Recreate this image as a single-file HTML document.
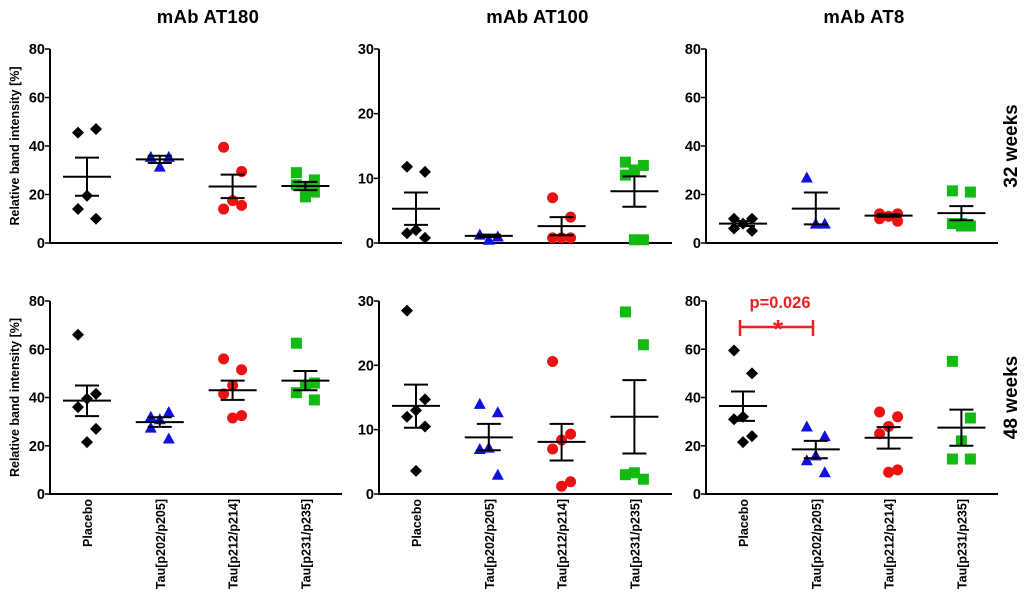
<!DOCTYPE html>
<html><head><meta charset="utf-8"><style>
html,body{margin:0;padding:0;background:#fff;}
svg{display:block;font-family:"Liberation Sans",Arial,sans-serif;font-weight:bold;}
</style></head><body>
<svg id="chart" width="1024" height="611" viewBox="0 0 1024 611"></svg>
<script>
const categories = ["Placebo","Tau[p202/p205]","Tau[p212/p214]","Tau[p231/p235]"];
const panelTitles = ["mAb AT180","mAb AT100","mAb AT8"];
const rowLabels = ["32 weeks","48 weeks"];
const yMaxes = [80,30,80];
const yTicks80 = [0,20,40,60,80];
const yTicks30 = [0,10,20,30];
const at180_32 = [[45.5,47,19.5,14,10],[35.5,35.5,31.5],[39.5,29.5,17.5,14,15.5],[29,26,23,24,21,19]];
const at100_32 = [[11.8,11,2,1.5,0.8],[1.3,1,0.5],[7,4,0.8,0.8,0.8],[12.5,12,11.3,10.5,0.5,0.5]];
const at8_32 = [[10,10,8,6,5],[27,8,8],[12,12,11,10,9],[21.5,21,8,8,7,7]];
const at180_48 = [[66,41.5,39.5,36,27,21.5],[32,34,31,27.5,23],[56,51.5,45,41.5,32.5,31.5],[62.5,46,45,42,39]];
const at100_48 = [[28.5,14.7,13,12,10.5,3.6],[14,12.7,7.2,7,3],[20.6,9.3,8.4,7,1.9,1.2],[28.3,23.2,3.3,3,2.3]];
const at8_48 = [[59.5,50,32,31,24,21.5],[28,24,16,14,9],[34,32,28,25,10,9],[55,31.5,22,14.5,14.5]];
const means_32 = [[27.3,34.5,23.3,23.5],[5.3,1.1,2.6,8],[8,14.2,11.3,12.3]];
const upper_32 = [[35.2,36,28.2,25.2],[7.8,1.3,4,10.3],[9,20.8,11.8,15.2]];
const lower_32 = [[19.5,33,18.5,21.8],[2.8,0.9,1.2,5.6],[7,7.7,10.8,9.4]];
const means_48 = [[38.7,29.8,43,47],[13.7,8.8,8.1,12],[36.5,18.5,23.3,27.5]];
const upper_48 = [[45,31.8,47,51],[17,10.9,10.9,17.7],[42.5,22,27.7,35]];
const lower_48 = [[32.3,27.8,39,43],[10.3,6.8,5.2,6.3],[30.3,14.8,18.8,20]];

const NS="http://www.w3.org/2000/svg";
const svg=document.getElementById('chart');
function mk(tag,attrs,parent,text){const e=document.createElementNS(NS,tag);for(const k in attrs)e.setAttribute(k,attrs[k]);if(text!==undefined)e.textContent=text;(parent||svg).appendChild(e);return e;}
const colors=["#000","#1010e0","#ee1111","#11bb11"];
const axisX=[50,379,706], axisR=[342,672,998];
const rowTop=[49,301], rowBot=[243,494];
const data=[[at180_32,at100_32,at8_32],[at180_48,at100_48,at8_48]];
const M=[means_32,means_48],U=[upper_32,upper_48],L=[lower_32,lower_48];
const jit=[-9,9,0,-9,9,0,-4,4];

panelTitles.forEach((t,p)=>{
  const e=mk('text',{x:(axisX[p]+axisR[p])/2+12,y:23,'text-anchor':'middle','font-size':18.5,'letter-spacing':0.3},svg,t);
  
  
});
rowLabels.forEach((t,r)=>{
  const cy=(rowTop[r]+rowBot[r])/2;
  const e=mk('text',{x:0,y:0,transform:`translate(1017,${cy}) rotate(-90)`,'text-anchor':'middle','font-size':19},svg,t);
  
  
});

for(let r=0;r<2;r++){
  const yt=mk('text',{x:0,y:0,transform:`translate(19,${(rowTop[r]+rowBot[r])/2}) rotate(-90)`,'text-anchor':'middle','font-size':12.5},svg,'Relative band intensity [%]');
  
  
  for(let p=0;p<3;p++){
    const g=mk('g',{});
    
    
    const ymax=yMaxes[p];
    const ys=v=>rowBot[r]-(v/ymax)*(rowBot[r]-rowTop[r]);
    const xs=i=>axisX[p]+37+i*72.8;
    const ax=axisX[p];
    const yl=mk('line',{x1:ax,y1:rowTop[r],x2:ax,y2:rowBot[r]+1,stroke:'#000','stroke-width':2},g);
    
    
    const xl=mk('line',{x1:ax-1,y1:rowBot[r],x2:axisR[p],y2:rowBot[r],stroke:'#000','stroke-width':2},g);
    
    
    (ymax===30?yTicks30:yTicks80).forEach(t=>{
      mk('line',{x1:ax-5,y1:ys(t),x2:ax,y2:ys(t),stroke:'#000','stroke-width':1.5},g);
      const tl=mk('text',{x:ax-5,y:ys(t)+5,'text-anchor':'end','font-size':14.5},g,String(t));
      
      
    });
    categories.forEach((c,i)=>{
      const cx=xs(i);
      if(r===1){
        const xt=mk('text',{x:0,y:0,transform:`translate(${cx+5},499) rotate(-90)`,'text-anchor':'end','font-size':12.5},g,c);
        
        
      }
      const vals=data[r][p][i];
      vals.forEach((v,k)=>{
        const x=cx+jit[k%jit.length], y=ys(v);
        let m;
        if(i===0) m=mk('polygon',{points:`${x},${y-6} ${x+6},${y} ${x},${y+6} ${x-6},${y}`,fill:colors[i]},g);
        else if(i===1) m=mk('polygon',{points:`${x},${y-6} ${x+6},${y+5} ${x-6},${y+5}`,fill:colors[i]},g);
        else if(i===2) m=mk('circle',{cx:x,cy:y,r:5.5,fill:colors[i]},g);
        else m=mk('rect',{x:x-5.5,y:y-5.5,width:11,height:11,fill:colors[i]},g);
        
        
      });
      const mean=M[r][p][i],up=U[r][p][i],lo=L[r][p][i];
      const ml=mk('line',{x1:cx-24,y1:ys(mean),x2:cx+24,y2:ys(mean),stroke:'#000','stroke-width':2},g);
      
      
      const eb=mk('path',{d:`M${cx},${ys(up)}V${ys(lo)}M${cx-12},${ys(up)}H${cx+12}M${cx-12},${ys(lo)}H${cx+12}`,stroke:'#000','stroke-width':2,fill:'none'},g);
      
      
    });
  }
}
const ann=mk('g',{});


mk('path',{d:'M740,320V336M740,327H813M813,320V336',stroke:'#ee2020','stroke-width':2.5,fill:'none'},ann);
mk('text',{x:778,y:338,'text-anchor':'middle','font-size':26,fill:'#ee2020'},ann,'*');
mk('text',{x:780,y:308,'text-anchor':'middle','font-size':16.5,fill:'#ee2020'},ann,'p=0.026');
</script>
</body></html>
